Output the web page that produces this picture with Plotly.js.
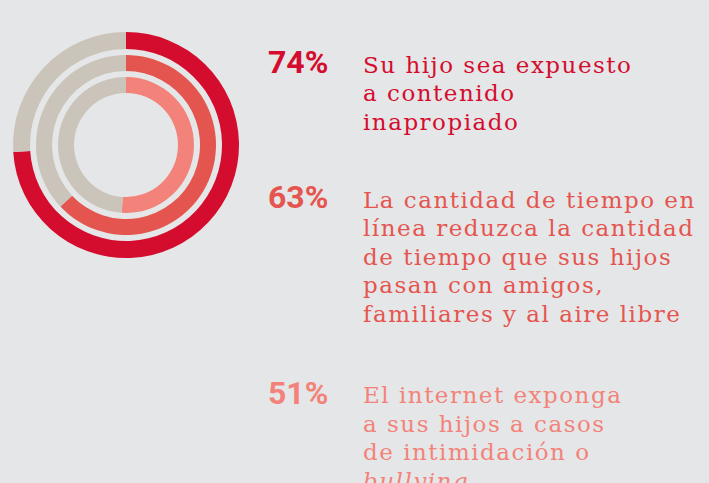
<!DOCTYPE html>
<html>
<head>
<meta charset="utf-8">
<script src="https://cdn.plot.ly/plotly-3.0.1.min.js"></script>
<style>
  html, body { margin: 0; padding: 0; background: #E5E6E7; }
  #chart { width: 709px; height: 483px; }
  .blurb .annotation-text { letter-spacing: 1.5px; }
</style>
</head>
<body>
<div id="chart"></div>
<script>
var percents = [74, 63, 51];
var ringColors = ['#D40D2F', '#E5554F', '#F3837A'];
var restColor = '#CAC4BA';
var blurbs = [
  ['Su hijo sea expuesto', 'a contenido', 'inapropiado'],
  ['La cantidad de tiempo en', 'línea reduzca la cantidad', 'de tiempo que sus hijos', 'pasan con amigos,', 'familiares y al aire libre'],
  ['El internet exponga', 'a sus hijos a casos', 'de intimidación o', '<i>bullying</i>']
];

var W = 709, H = 483;
var cx = 126, cy = 145;
// outer / inner radius of each ring, px
var rings = [[113, 96], [90, 74], [68, 52]];
var baselines = [72, 207, 402.5];
var lineGap = 28.5;
var pctSize = 32, txtSize = 23;

var data = [];
for (var i = 0; i < percents.length; i++) {
  var ro = rings[i][0], ri = rings[i][1];
  data.push({
    type: 'pie',
    values: [percents[i], 100 - percents[i]],
    labels: ['sí ' + i, 'resto ' + i],
    sort: false,
    direction: 'clockwise',
    rotation: 0,
    hole: ri / ro,
    textinfo: 'none',
    hoverinfo: 'none',
    showlegend: false,
    marker: { colors: [ringColors[i], restColor], line: { width: 0 } },
    domain: {
      x: [(cx - ro) / W, (cx + ro) / W],
      y: [1 - (cy + ro) / H, 1 - (cy - ro) / H]
    }
  });
}

// annotation top = baseline - borderpad - ascent
var annotations = [];
for (var j = 0; j < percents.length; j++) {
  annotations.push({
    xref: 'paper', yref: 'paper',
    x: 266 / W, y: 1 - (baselines[j] - 1 - 0.927 * pctSize) / H,
    xanchor: 'left', yanchor: 'top',
    showarrow: false,
    text: percents[j] + '%',
    font: { family: 'Roboto', size: pctSize, weight: 700, color: ringColors[j] }
  });
  for (var k = 0; k < blurbs[j].length; k++) {
    var bl = baselines[j] + k * lineGap;
    annotations.push({
      xref: 'paper', yref: 'paper',
      x: 361 / W, y: 1 - (bl - 1 - 0.928 * txtSize) / H,
      xanchor: 'left', yanchor: 'top',
      align: 'left',
      showarrow: false,
      text: blurbs[j][k],
      name: 'blurb',
      font: { family: 'DejaVu Serif', size: txtSize, color: ringColors[j] }
    });
  }
}

var layout = {
  width: W, height: H,
  margin: { l: 0, r: 0, t: 0, b: 0 },
  paper_bgcolor: '#E5E6E7',
  plot_bgcolor: '#E5E6E7',
  annotations: annotations
};

Plotly.newPlot('chart', data, layout, { staticPlot: true }).then(function (gd) {
  // widen the body text a touch, as in the original slab face
  var texts = gd.querySelectorAll('.annotation-text');
  texts.forEach(function (t) {
    if (t.textContent.indexOf('%') === -1) t.style.letterSpacing = '1.5px';
  });
});
</script>
</body>
</html>
